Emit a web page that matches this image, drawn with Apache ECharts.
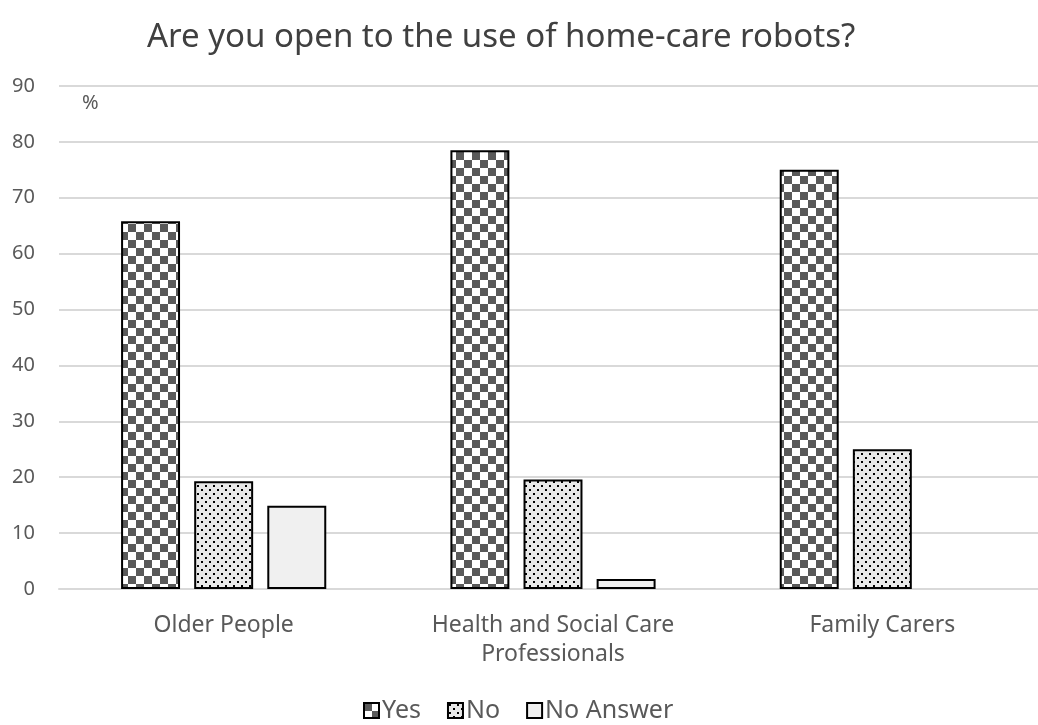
<!DOCTYPE html>
<html>
<head>
<meta charset="utf-8">
<script src="https://cdn.jsdelivr.net/npm/echarts@6/dist/echarts.min.js"></script>
<style>
  html, body { margin: 0; padding: 0; background: #fff; overflow: hidden; }
  #chart { width: 1047px; height: 725px; }
</style>
</head>
<body>
<div id="chart"></div>
<script>
// Survey groups and answer shares (%)
const categories = ['Older People', 'Health and Social Care\nProfessionals', 'Family Carers'];
const seriesNames = ['Yes', 'No', 'No Answer'];
const yesValues = [65.8, 78.5, 75.0];
const noValues = [19.3, 19.6, 25.0];
const noAnswerValues = [14.9, 1.8, 0];
const yTicks = [0, 10, 20, 30, 40, 50, 60, 70, 80, 90];

// Fill patterns drawn on small canvases
function checkerPattern() {
  const s = 8;
  const c = document.createElement('canvas');
  c.width = s * 2; c.height = s * 2;
  const g = c.getContext('2d');
  g.fillStyle = '#ffffff';
  g.fillRect(0, 0, s * 2, s * 2);
  g.fillStyle = '#595959';
  g.fillRect(0, 0, s, s);
  g.fillRect(s, s, s, s);
  return c;
}
function dotPattern() {
  const s = 8;
  const c = document.createElement('canvas');
  c.width = s; c.height = s;
  const g = c.getContext('2d');
  g.fillStyle = '#e8e8e8';
  g.fillRect(0, 0, s, s);
  g.fillStyle = '#000000';
  g.fillRect(1, 1, 2, 2);
  g.fillRect(5, 5, 2, 2);
  return c;
}

const fills = [
  { image: checkerPattern(), repeat: 'repeat' },
  { image: dotPattern(), repeat: 'repeat' },
  '#f0f0f0'
];
const values = [yesValues, noValues, noAnswerValues];

// A zero-height bar gets no outline
function toItems(arr) {
  return arr.map(v => v === 0 ? { value: v, itemStyle: { borderWidth: 0 } } : v);
}

const chart = echarts.init(document.getElementById('chart'), null, { renderer: 'canvas' });

chart.setOption({
  animation: false,
  backgroundColor: '#ffffff',
  textStyle: { fontFamily: 'Noto Sans' },
  title: {
    text: 'Are you open to the use of home-care robots?',
    left: 142,
    top: 16,
    textStyle: { fontFamily: 'Noto Sans', fontSize: 33, fontWeight: 'normal', color: '#404040' }
  },
  graphic: [{
    type: 'text',
    left: 82,
    top: 93,
    style: { text: '%', font: '20px "Noto Sans"', fill: '#595959' }
  }],
  legend: {
    data: seriesNames,
    bottom: -3,
    left: 358,
    itemWidth: 15,
    itemHeight: 15,
    itemGap: 26,
    icon: 'rect',
    textStyle: { fontFamily: 'Noto Sans', fontSize: 25, color: '#595959', padding: [0, 0, 0, -2] }
  },
  grid: { left: 59, right: 0, top: 86, bottom: 136, containLabel: false },
  xAxis: {
    type: 'category',
    data: categories,
    axisLine: { lineStyle: { color: '#d9d9d9', width: 2 } },
    axisTick: { show: false },
    axisLabel: { fontFamily: 'Noto Sans', fontSize: 23, color: '#595959', margin: 22, lineHeight: 29 }
  },
  yAxis: {
    type: 'value',
    min: yTicks[0],
    max: yTicks[yTicks.length - 1],
    interval: 10,
    axisLine: { show: false },
    axisTick: { show: false },
    splitLine: { lineStyle: { color: '#d9d9d9', width: 2 } },
    axisLabel: { fontFamily: 'Noto Sans', fontSize: 20, color: '#595959', margin: 24 }
  },
  series: seriesNames.map((name, i) => ({
    name,
    type: 'bar',
    data: toItems(values[i]),
    barGap: '24%',
    barCategoryGap: '37.7%',
    itemStyle: { color: fills[i], borderColor: '#000000', borderWidth: 2 },
    emphasis: { disabled: true }
  }))
});
</script>
</body>
</html>
